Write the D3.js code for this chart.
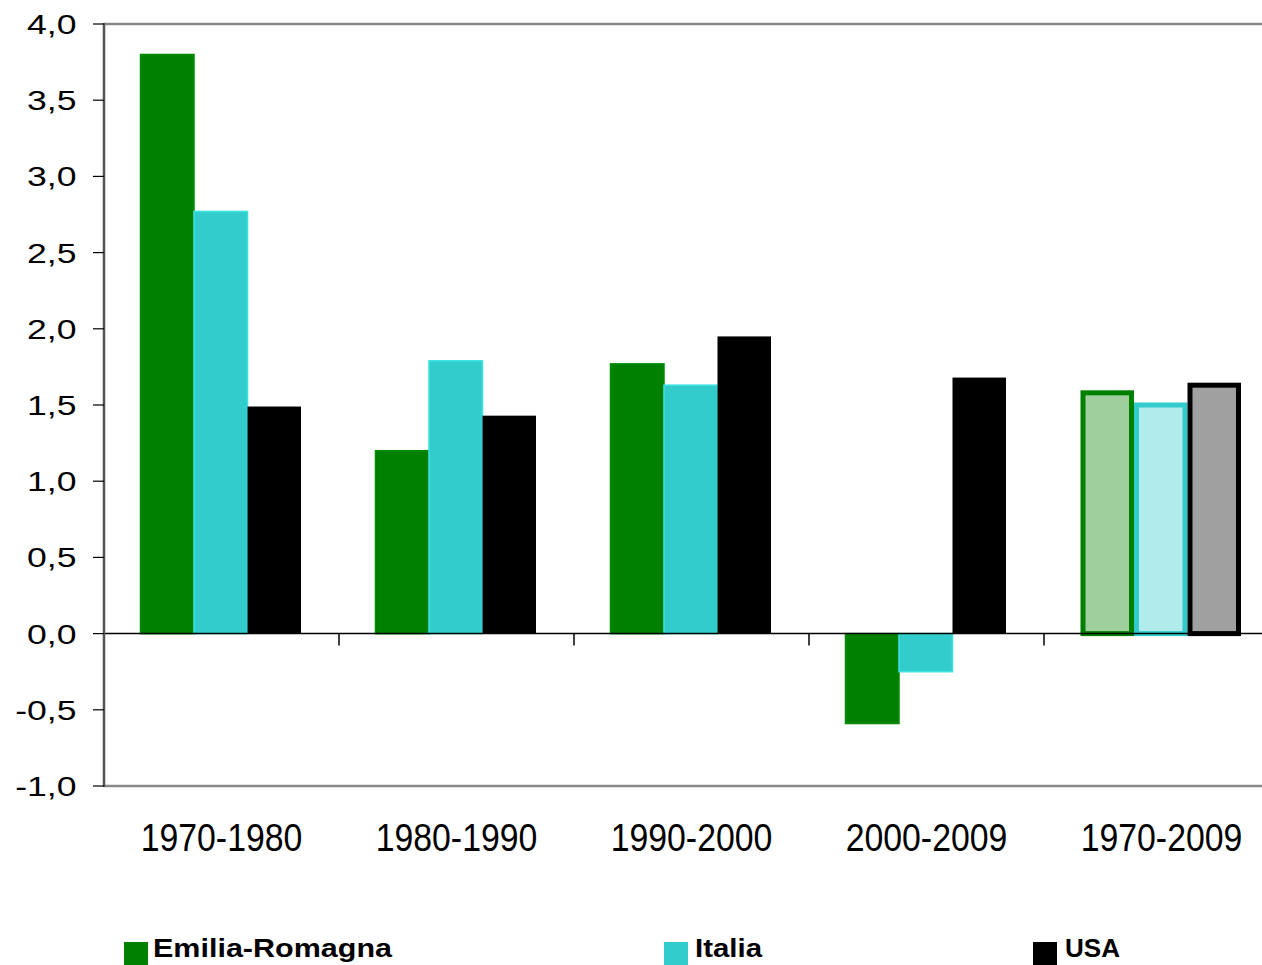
<!DOCTYPE html>
<html>
<head>
<meta charset="utf-8">
<script src="https://cdn.jsdelivr.net/npm/d3@7"></script>
<style>
  html, body { margin: 0; padding: 0; background: #fff; }
  svg { display: block; font-family: "Liberation Sans", Arial, sans-serif; }
</style>
</head>
<body>
<svg id="chart" width="1262" height="965"></svg>
<script>
const categories = ["1970-1980", "1980-1990", "1990-2000", "2000-2009", "1970-2009"];
const seriesNames = ["Emilia-Romagna", "Italia", "USA"];
const emiliaRomagna = [3.80, 1.20, 1.77, -0.59, 1.58];
const italia = [2.77, 1.79, 1.63, -0.25, 1.50];
const usa = [1.49, 1.43, 1.95, 1.68, 1.63];
const yTicks = [-1.0, -0.5, 0.0, 0.5, 1.0, 1.5, 2.0, 2.5, 3.0, 3.5, 4.0];

const seriesValues = [emiliaRomagna, italia, usa];
const colors = ["#008000", "#33CCCC", "#000000"];
const lightFills = ["#A0CF9E", "#B2EBEB", "#A0A0A0"];

const svg = d3.select("#chart");
const plotLeft = 104, plotTop = 24, plotBottom = 786;
const bandW = 235;

const x = d3.scaleBand().domain(categories).range([plotLeft, plotLeft + bandW * categories.length]).padding(0);
const xSub = d3.scaleBand().domain(seriesNames).range([-81, 79.5]).padding(0);
const y = d3.scaleLinear().domain([-1, 4]).range([plotBottom, plotTop]);

// frame: top and bottom borders
svg.append("line").attr("x1", plotLeft).attr("x2", 1262).attr("y1", plotTop).attr("y2", plotTop)
  .attr("stroke", "#888").attr("stroke-width", 2.5);
svg.append("line").attr("x1", plotLeft).attr("x2", 1262).attr("y1", plotBottom).attr("y2", plotBottom)
  .attr("stroke", "#888").attr("stroke-width", 2.5);

// bars
const rows = [];
categories.forEach((c, ci) => {
  seriesNames.forEach((s, si) => {
    rows.push({cat: c, ci, series: s, si, value: seriesValues[si][ci]});
  });
});

const isLast = d => d.ci === categories.length - 1;
const center = c => x(c) + x.bandwidth() / 2;

svg.append("g").selectAll("rect").data(rows).join("rect")
  .attr("x", d => center(d.cat) + xSub(d.series) + (isLast(d) ? 2.5 : 0))
  .attr("width", d => xSub.bandwidth() - (isLast(d) ? 5 : 0))
  .attr("y", d => Math.min(y(d.value), y(0)))
  .attr("height", d => Math.abs(y(d.value) - y(0)))
  .attr("fill", d => isLast(d) ? lightFills[d.si] : colors[d.si])
  .attr("stroke", d => isLast(d) ? colors[d.si] : (d.si === 2 ? "none" : d3.color(colors[d.si]).brighter(0.3)))
  .attr("stroke-width", d => isLast(d) ? 5 : 1.5);

// zero line
svg.append("line").attr("x1", plotLeft).attr("x2", 1262).attr("y1", y(0)).attr("y2", y(0))
  .attr("stroke", "#000").attr("stroke-width", 1.5);

// category tick marks at band boundaries
svg.append("g").selectAll("line").data(categories.slice(1)).join("line")
  .attr("x1", d => x(d)).attr("x2", d => x(d))
  .attr("y1", y(0)).attr("y2", y(0) + 12)
  .attr("stroke", "#000").attr("stroke-width", 1.5);

// left axis
svg.append("line").attr("x1", plotLeft).attr("x2", plotLeft).attr("y1", plotTop - 1).attr("y2", plotBottom + 1)
  .attr("stroke", "#555").attr("stroke-width", 2.5);
svg.append("g").selectAll("line").data(yTicks).join("line")
  .attr("x1", plotLeft - 11).attr("x2", plotLeft)
  .attr("y1", d => y(d)).attr("y2", d => y(d))
  .attr("stroke", "#000").attr("stroke-width", 1.2);

const fmt = v => d3.format(".1f")(v).replace(".", ",").replace("\u2212", "-");
svg.append("g").selectAll("text").data(yTicks).join("text")
  .attr("transform", d => `translate(76.5,${y(d) + 10}) scale(1.27,1)`)
  .attr("text-anchor", "end")
  .attr("font-size", 28)
  .attr("fill", "#000")
  .text(fmt);

// category labels
svg.append("g").selectAll("text").data(categories).join("text")
  .attr("transform", d => `translate(${center(d)},851) scale(0.89,1)`)
  .attr("text-anchor", "middle")
  .attr("font-size", 38)
  .attr("fill", "#000")
  .text(d => d);

// legend
const legendX = [124, 664, 1033];
const legendTextX = [153, 695, 1065];
const legendLen = [239, 67, 55];
const lg = svg.append("g").selectAll("g").data(seriesNames).join("g");
lg.append("rect")
  .attr("x", (d, i) => legendX[i]).attr("y", 942)
  .attr("width", 24).attr("height", 24)
  .attr("fill", (d, i) => colors[i]);
lg.append("text")
  .attr("x", (d, i) => legendTextX[i]).attr("y", 957)
  .attr("font-size", 25).attr("font-weight", "bold")
  .attr("textLength", (d, i) => legendLen[i])
  .attr("lengthAdjust", "spacingAndGlyphs")
  .attr("fill", "#000")
  .text(d => d);
</script>
</body>
</html>
